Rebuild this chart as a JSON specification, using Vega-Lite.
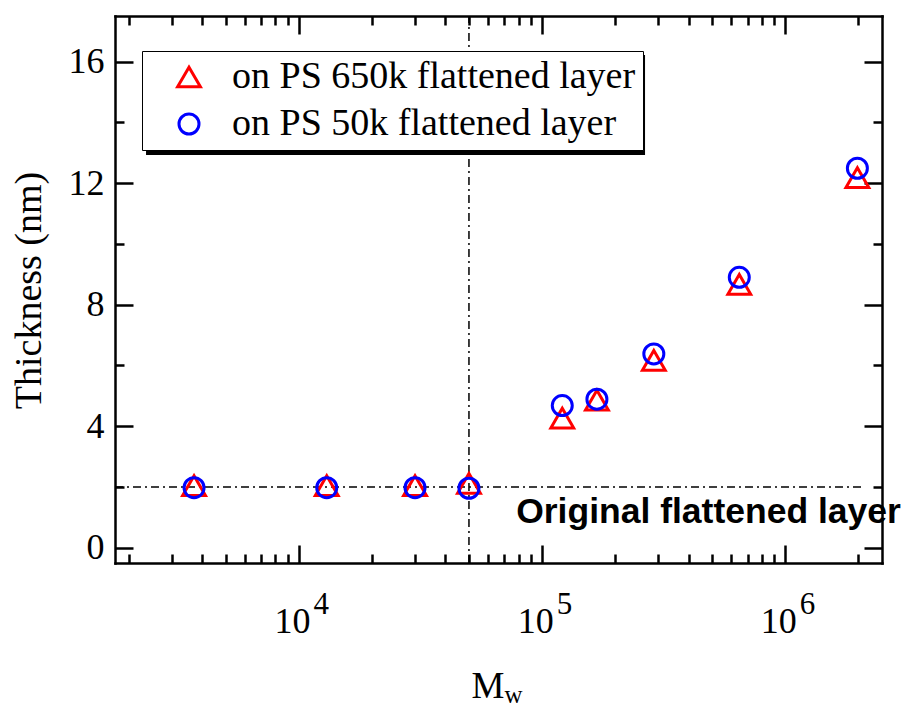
{
  "$schema": "https://vega.github.io/schema/vega-lite/v6.json",
  "width": 767,
  "height": 547,
  "autosize": {"type": "none"},
  "padding": {"left": 115, "top": 16, "right": 23, "bottom": 143},
  "background": "white",
  "config": {
    "view": {"stroke": null},
    "axis": {
      "grid": false,
      "domainColor": "black",
      "domainWidth": 2.5,
      "domainCap": "square",
      "tickColor": "black",
      "tickWidth": 2.5,
      "labelColor": "black",
      "titleColor": "black",
      "labelFont": "Liberation Serif",
      "titleFont": "Liberation Serif",
      "labelFontSize": 36,
      "titleFontSize": 37,
      "titleFontWeight": "normal",
      "labelFlush": false,
      "labelOverlap": false
    }
  },
  "datasets": {
    "points": [
      {"Mw": 3700, "T": 2.05, "series": "on PS 650k flattened layer"},
      {"Mw": 13000, "T": 2.05, "series": "on PS 650k flattened layer"},
      {"Mw": 30000, "T": 2.05, "series": "on PS 650k flattened layer"},
      {"Mw": 50000, "T": 2.12, "series": "on PS 650k flattened layer"},
      {"Mw": 121000, "T": 4.27, "series": "on PS 650k flattened layer"},
      {"Mw": 168000, "T": 4.86, "series": "on PS 650k flattened layer"},
      {"Mw": 288000, "T": 6.17, "series": "on PS 650k flattened layer"},
      {"Mw": 647000, "T": 8.67, "series": "on PS 650k flattened layer"},
      {"Mw": 1980000, "T": 12.18, "series": "on PS 650k flattened layer"},
      {"Mw": 3700, "T": 1.98, "series": "on PS 50k flattened layer"},
      {"Mw": 13000, "T": 1.98, "series": "on PS 50k flattened layer"},
      {"Mw": 30000, "T": 1.98, "series": "on PS 50k flattened layer"},
      {"Mw": 50000, "T": 1.96, "series": "on PS 50k flattened layer"},
      {"Mw": 121000, "T": 4.68, "series": "on PS 50k flattened layer"},
      {"Mw": 168000, "T": 4.89, "series": "on PS 50k flattened layer"},
      {"Mw": 288000, "T": 6.38, "series": "on PS 50k flattened layer"},
      {"Mw": 647000, "T": 8.9, "series": "on PS 50k flattened layer"},
      {"Mw": 1980000, "T": 12.49, "series": "on PS 50k flattened layer"}
    ]
  },
  "resolve": {"axis": {"x": "independent", "y": "independent"}},
  "layer": [
    {
      "data": {"values": [{}]},
      "mark": {"type": "rect", "color": "black"},
      "encoding": {
        "x": {
          "datum": 2348, "type": "quantitative",
          "scale": {"type": "log", "domain": [1750, 2500000], "nice": false},
          "axis": {
            "orient": "bottom", "values": [10000, 100000, 1000000],
            "ticks": false, "domain": false,
            "labelExpr": "datum.value == 10000 ? '4' : datum.value == 100000 ? '5' : '6'",
            "labelFontSize": 31, "labelAlign": "left", "labelOffset": 14,
            "labelBaseline": "alphabetic", "labelPadding": 50,
            "title": "w", "titleFontSize": 25, "titleX": 389, "titleY": 139,
            "titleAlign": "left", "titleBaseline": "alphabetic"
          }
        },
        "x2": {"datum": 265000},
        "y": {
          "datum": 16.216, "type": "quantitative",
          "scale": {"type": "linear", "domain": [-0.5, 17.5], "nice": false, "zero": false},
          "axis": null
        },
        "y2": {"datum": 12.925}
      }
    },
    {
      "data": {"values": [{}]},
      "mark": {"type": "rule", "color": "black", "strokeWidth": 1.5, "strokeDash": [8, 4, 2, 4]},
      "encoding": {
        "x": {
          "datum": 1750, "type": "quantitative",
          "scale": {"type": "log", "domain": [1750, 2500000], "nice": false},
          "axis": {
            "orient": "top", "values": [10000, 100000, 1000000],
            "tickSize": -18, "labels": false, "domain": true, "title": null
          }
        },
        "x2": {"datum": 2050000},
        "y": {
          "datum": 2, "type": "quantitative",
          "scale": {"type": "linear", "domain": [-0.5, 17.5], "nice": false, "zero": false},
          "axis": {
            "orient": "right", "values": [0, 4, 8, 12, 16],
            "tickSize": -18, "labels": false, "domain": true, "title": null
          }
        }
      }
    },
    {
      "data": {"values": [{}]},
      "mark": {"type": "rule", "color": "black", "strokeWidth": 1.5, "strokeDash": [8, 4, 2, 4]},
      "encoding": {
        "x": {
          "datum": 50000, "type": "quantitative",
          "scale": {"type": "log", "domain": [1750, 2500000], "nice": false},
          "axis": {
            "orient": "bottom",
            "values": [2000, 3000, 4000, 5000, 6000, 7000, 8000, 9000, 20000, 30000, 40000, 50000, 60000, 70000, 80000, 90000, 200000, 300000, 400000, 500000, 600000, 700000, 800000, 900000, 2000000],
            "tickSize": -9, "labels": false, "domain": false, "title": null
          }
        },
        "y": {
          "datum": -0.5, "type": "quantitative",
          "scale": {"type": "linear", "domain": [-0.5, 17.5], "nice": false, "zero": false},
          "axis": {
            "orient": "left", "values": [2, 6, 10, 14],
            "tickSize": -9, "labels": false, "domain": false, "title": null
          }
        },
        "y2": {"datum": 17.5}
      }
    },
    {
      "data": {"name": "points"},
      "mark": {"type": "point", "filled": false, "strokeWidth": 3, "opacity": 1},
      "encoding": {
        "x": {
          "field": "Mw", "type": "quantitative",
          "scale": {"type": "log", "domain": [1750, 2500000], "nice": false},
          "axis": {
            "orient": "bottom", "values": [10000, 100000, 1000000],
            "tickSize": -18, "domain": true,
            "labelExpr": "'10'", "labelAlign": "right", "labelOffset": 11,
            "labelBaseline": "alphabetic", "labelPadding": 87,
            "title": "M", "titleFontSize": 37, "titleX": 356, "titleY": 134,
            "titleAlign": "left", "titleBaseline": "alphabetic"
          }
        },
        "y": {
          "field": "T", "type": "quantitative",
          "scale": {"type": "linear", "domain": [-0.5, 17.5], "nice": false, "zero": false},
          "axis": {
            "orient": "left", "values": [0, 4, 8, 12, 16],
            "tickSize": -18, "domain": true,
            "labelPadding": 29, "labelAlign": "right", "labelBaseline": "middle",
            "title": "Thickness (nm)", "titleFontSize": 38, "titleX": -75, "titleY": 274,
            "titleAlign": "center", "titleBaseline": "alphabetic", "titleAngle": -90
          }
        },
        "color": {
          "field": "series", "type": "nominal",
          "scale": {"domain": ["on PS 650k flattened layer", "on PS 50k flattened layer"], "range": ["#ff0000", "#0000ff"]},
          "legend": {
            "orient": "none", "legendX": 27, "legendY": 35,
            "title": null,
            "labelFont": "Liberation Serif", "labelFontSize": 38, "labelColor": "black", "labelLimit": 0,
            "symbolStrokeWidth": 3,
            "padding": 7, "rowPadding": 9, "symbolOffset": 21, "labelOffset": 24,
            "strokeColor": "black", "fillColor": "white", "cornerRadius": 0,
            "encode": {"legend": {"update": {"strokeWidth": {"value": 2.5}}}}
          }
        },
        "shape": {
          "field": "series", "type": "nominal",
          "scale": {"domain": ["on PS 650k flattened layer", "on PS 50k flattened layer"], "range": ["triangle-up", "circle"]}
        },
        "size": {
          "field": "series", "type": "nominal",
          "scale": {"domain": ["on PS 650k flattened layer", "on PS 50k flattened layer"], "range": [520, 400]}
        }
      }
    },
    {
      "data": {"values": [{}]},
      "mark": {"type": "text", "text": "Original flattened layer", "font": "Liberation Sans", "fontWeight": "bold", "fontSize": 35.5, "align": "left", "baseline": "alphabetic", "color": "black"},
      "encoding": {
        "x": {
          "datum": 78200, "type": "quantitative",
          "scale": {"type": "log", "domain": [1750, 2500000], "nice": false},
          "axis": {
            "orient": "top",
            "values": [2000, 3000, 4000, 5000, 6000, 7000, 8000, 9000, 20000, 30000, 40000, 50000, 60000, 70000, 80000, 90000, 200000, 300000, 400000, 500000, 600000, 700000, 800000, 900000, 2000000],
            "tickSize": -9, "labels": false, "domain": false, "title": null
          }
        },
        "y": {
          "datum": 0.82, "type": "quantitative",
          "scale": {"type": "linear", "domain": [-0.5, 17.5], "nice": false, "zero": false},
          "axis": {
            "orient": "right", "values": [2, 6, 10, 14],
            "tickSize": -9, "labels": false, "domain": false, "title": null
          }
        }
      }
    }
  ]
}
